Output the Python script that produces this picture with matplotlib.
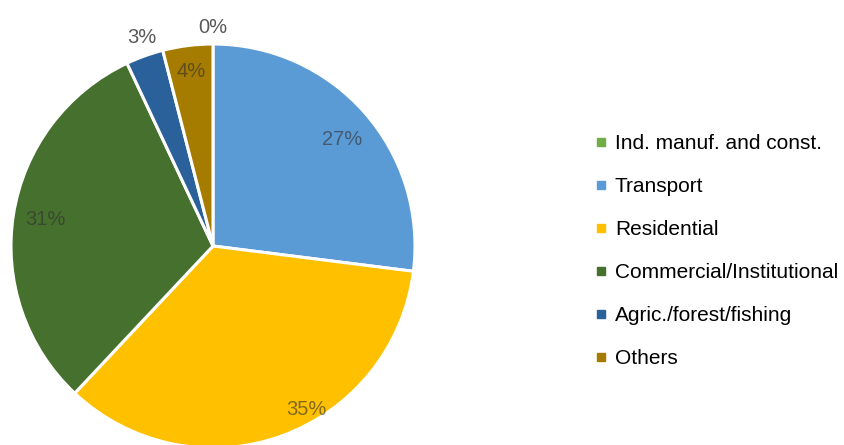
import numpy as np
import matplotlib.pyplot as plt
from matplotlib.lines import Line2D

plt.rcParams['font.family'] = ['Liberation Sans', 'DejaVu Sans']

sectors = ['Ind. manuf. and const.', 'Transport', 'Residential',
           'Commercial/Institutional', 'Agric./forest/fishing', 'Others']
shares = [0, 27, 35, 31, 3, 4]
colors = ['#70AD47', '#5B9BD5', '#FFC000', '#46702E', '#2A619A', '#A67C00']

# label radius (fraction of pie radius) and small angle nudge per slice
label_r = [1.08, 0.83, 0.93, 0.84, 1.09, 0.87]
label_nudge = [0, -2, 10, 0, -1, 0]
label_inside = [False, True, True, True, False, True]

fig = plt.figure(figsize=(8.45, 4.45), dpi=100)
W, H = 845, 445
R = 202
cx, cy = 213, 246
half = 1.1 * R
ax = fig.add_axes([(cx - half) / W, (H - cy - half) / H, 2 * half / W, 2 * half / H])

ax.pie(shares, colors=colors, startangle=90, counterclock=False, radius=1,
       wedgeprops=dict(edgecolor='white', linewidth=2.2))
ax.set_xlim(-1.1, 1.1)
ax.set_ylim(-1.1, 1.1)
ax.set_aspect('equal')
ax.axis('off')

total = sum(shares)
start = 90.0
for i, v in enumerate(shares):
    sweep = 360.0 * v / total
    mid = np.deg2rad(start - sweep / 2 + label_nudge[i])
    start -= sweep
    x, y = label_r[i] * np.cos(mid), label_r[i] * np.sin(mid)
    if label_inside[i]:
        ax.text(x, y, f'{v / total * 100:.0f}%', ha='center', va='center',
                fontsize=14.5, color='#303030', alpha=0.6)
    else:
        ax.text(x, y, f'{v / total * 100:.0f}%', ha='center', va='center',
                fontsize=14.5, color='#595959')

handles = [Line2D([], [], marker='s', linestyle='none', markersize=5.5,
                  markerfacecolor=c, markeredgecolor=c) for c in colors]
fig.legend(handles, sectors, loc='center left',
           bbox_to_anchor=(595 / W, (H - 251) / H), frameon=False,
           fontsize=15, handlelength=0.6, handletextpad=0.35,
           labelspacing=1.15, borderpad=0, borderaxespad=0)

fig.savefig('out.png', dpi=100)
